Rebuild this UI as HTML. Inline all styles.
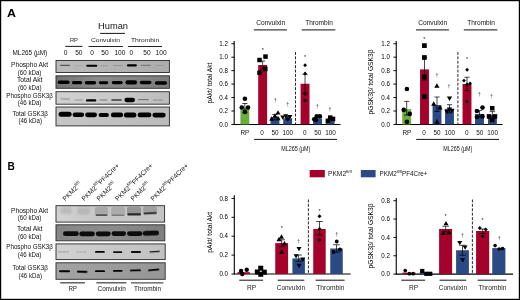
<!DOCTYPE html>
<html><head><meta charset="utf-8"><title>Figure</title>
<style>
html,body{margin:0;padding:0;background:#fff;}
body{width:520px;height:300px;overflow:hidden;}
svg{display:block;font-family:"Liberation Sans", sans-serif;}
</style></head><body>
<svg width="520" height="300" viewBox="0 0 520 300">
<defs>
<filter id="bl" x="-30%" y="-150%" width="160%" height="400%"><feGaussianBlur stdDeviation="0.55"/></filter>
<filter id="bl2" x="-30%" y="-50%" width="160%" height="200%"><feGaussianBlur stdDeviation="1.1"/></filter>
<filter id="bl3" x="-30%" y="-50%" width="160%" height="200%"><feGaussianBlur stdDeviation="0.7"/></filter>
<linearGradient id="gA1" x1="0" y1="0" x2="1" y2="0"><stop offset="0" stop-color="#bbbbbb"/><stop offset="0.5" stop-color="#b4b4b4"/><stop offset="1" stop-color="#acacac"/></linearGradient><linearGradient id="gA2" x1="0" y1="0" x2="1" y2="0"><stop offset="0" stop-color="#747474"/><stop offset="0.35" stop-color="#8a8a8a"/><stop offset="0.7" stop-color="#858585"/><stop offset="1" stop-color="#7c7c7c"/></linearGradient><linearGradient id="gA3" x1="0" y1="0" x2="1" y2="0"><stop offset="0" stop-color="#d0d0d0"/><stop offset="0.6" stop-color="#c8c8c8"/><stop offset="1" stop-color="#bcbcbc"/></linearGradient><linearGradient id="gA4" x1="0" y1="0" x2="1" y2="0"><stop offset="0" stop-color="#c6c6c6"/><stop offset="0.5" stop-color="#c0c0c0"/><stop offset="1" stop-color="#bababa"/></linearGradient><linearGradient id="gB1" x1="0" y1="0" x2="1" y2="0"><stop offset="0" stop-color="#d3d3d3"/><stop offset="0.4" stop-color="#c6c6c6"/><stop offset="1" stop-color="#c4c4c4"/></linearGradient><linearGradient id="gB2" x1="0" y1="0" x2="1" y2="0"><stop offset="0" stop-color="#868686"/><stop offset="0.5" stop-color="#8c8c8c"/><stop offset="1" stop-color="#7e7e7e"/></linearGradient><linearGradient id="gB3" x1="0" y1="0" x2="1" y2="0"><stop offset="0" stop-color="#d2d2d2"/><stop offset="0.5" stop-color="#c8c8c8"/><stop offset="1" stop-color="#c2c2c2"/></linearGradient><linearGradient id="gB4" x1="0" y1="0" x2="1" y2="0"><stop offset="0" stop-color="#a4a4a4"/><stop offset="0.5" stop-color="#9c9c9c"/><stop offset="1" stop-color="#969696"/></linearGradient>
</defs>
<rect x="0" y="0" width="520" height="300" fill="#fff"/>
<text x="6.9" y="16.9" font-size="11.7" textLength="9" lengthAdjust="spacingAndGlyphs" font-weight="bold" fill="#000">A</text>
<text x="7.6" y="170" font-size="11.4" textLength="7.3" lengthAdjust="spacingAndGlyphs" font-weight="bold" fill="#000">B</text>
<text x="98" y="28.5" font-size="9.7" textLength="30" lengthAdjust="spacingAndGlyphs" fill="#111">Human</text>
<line x1="100.2" y1="33.4" x2="124.9" y2="33.4" stroke="#111" stroke-width="1.0"/>
<text x="69.9" y="42.2" font-size="6.0" textLength="8" lengthAdjust="spacingAndGlyphs" fill="#222">RP</text>
<text x="91" y="42.2" font-size="6.0" textLength="29" lengthAdjust="spacingAndGlyphs" fill="#222">Convulxin</text>
<text x="131" y="42.2" font-size="6.0" textLength="28.2" lengthAdjust="spacingAndGlyphs" fill="#222">Thrombin</text>
<line x1="65.3" y1="46.4" x2="82.4" y2="46.4" stroke="#222" stroke-width="1.05"/>
<line x1="88.5" y1="46.4" x2="122.9" y2="46.4" stroke="#222" stroke-width="1.05"/>
<line x1="127.9" y1="46.4" x2="162" y2="46.4" stroke="#222" stroke-width="1.05"/>
<text x="12.5" y="55" font-size="6.5" textLength="34.7" lengthAdjust="spacingAndGlyphs" fill="#111">ML265 (µM)</text>
<text x="65.5" y="55.1" font-size="6.6" text-anchor="middle" fill="#111">0</text>
<text x="78.8" y="55.1" font-size="6.6" text-anchor="middle" fill="#111">50</text>
<text x="92.1" y="55.1" font-size="6.6" text-anchor="middle" fill="#111">0</text>
<text x="105" y="55.1" font-size="6.6" text-anchor="middle" fill="#111">50</text>
<text x="119.9" y="55.1" font-size="6.6" text-anchor="middle" fill="#111">100</text>
<text x="131.4" y="55.1" font-size="6.6" text-anchor="middle" fill="#111">0</text>
<text x="147" y="55.1" font-size="6.6" text-anchor="middle" fill="#111">50</text>
<text x="161.1" y="55.1" font-size="6.6" text-anchor="middle" fill="#111">100</text>
<text x="11.1" y="66.6" font-size="6.6" textLength="37" lengthAdjust="spacingAndGlyphs" fill="#111">Phospho Akt</text>
<text x="17.8" y="74.5" font-size="6.6" textLength="23.6" lengthAdjust="spacingAndGlyphs" fill="#111">(60 kDa)</text>
<text x="16.9" y="81.7" font-size="6.6" textLength="25.6" lengthAdjust="spacingAndGlyphs" fill="#111">Total Akt</text>
<text x="17.9" y="89.6" font-size="6.6" textLength="23.6" lengthAdjust="spacingAndGlyphs" fill="#111">(60 kDa)</text>
<text x="6.25" y="97.7" font-size="6.6" textLength="46.7" lengthAdjust="spacingAndGlyphs" fill="#111">Phospho GSK3β</text>
<text x="17.8" y="105.2" font-size="6.6" textLength="23.6" lengthAdjust="spacingAndGlyphs" fill="#111">(46 kDa)</text>
<text x="12.45" y="115.6" font-size="6.6" textLength="35.5" lengthAdjust="spacingAndGlyphs" fill="#111">Total GSK3β</text>
<text x="18.4" y="123.1" font-size="6.6" textLength="23.6" lengthAdjust="spacingAndGlyphs" fill="#111">(46 kDa)</text>
<clipPath id="ca1"><rect x="56.0" y="60.5" width="113.4" height="12.0"/></clipPath>
<g clip-path="url(#ca1)">
<rect x="56.0" y="60.5" width="113.4" height="12.0" fill="url(#gA1)"/>
<rect x="60" y="64.75" width="10" height="1.3" rx="0.65" fill="#333" opacity="0.75" filter="url(#bl)" transform="rotate(1 65.0 65.4)"/>
<rect x="74.5" y="65.3" width="8.5" height="1.0" rx="0.5" fill="#555" opacity="0.15" filter="url(#bl)"/>
<rect x="86.2" y="64.75" width="11.1" height="2.1" rx="1.05" fill="#000" opacity="1" filter="url(#bl)"/>
<rect x="100" y="65.2" width="8" height="1.0" rx="0.5" fill="#555" opacity="0.3" filter="url(#bl)"/>
<rect x="113" y="65.0" width="9.5" height="1.0" rx="0.5" fill="#555" opacity="0.3" filter="url(#bl)"/>
<rect x="126.9" y="64.25" width="10.0" height="2.3" rx="1.15" fill="#000" opacity="1" filter="url(#bl)"/>
<rect x="140.6" y="64.85" width="10.0" height="1.1" rx="0.55" fill="#444" opacity="0.5" filter="url(#bl)"/>
<rect x="155" y="65.0" width="10" height="1.0" rx="0.5" fill="#555" opacity="0.2" filter="url(#bl)"/>
</g>
<rect x="56.0" y="60.5" width="113.4" height="12.0" fill="none" stroke="#262626" stroke-width="0.9"/>
<clipPath id="ca2"><rect x="56.0" y="75.8" width="113.4" height="12.5"/></clipPath>
<g clip-path="url(#ca2)">
<rect x="56.0" y="75.8" width="113.4" height="12.5" fill="url(#gA2)"/>
<rect x="57.7" y="80.5" width="11.9" height="3.6" rx="1.8" fill="#050505" opacity="1" filter="url(#bl)"/>
<rect x="72" y="81.1" width="10.2" height="3.2" rx="1.6" fill="#050505" opacity="1" filter="url(#bl)"/>
<rect x="84.8" y="80.95" width="11.4" height="3.5" rx="1.75" fill="#050505" opacity="1" filter="url(#bl)"/>
<rect x="98.8" y="81.35" width="9.4" height="2.9" rx="1.45" fill="#050505" opacity="1" filter="url(#bl)"/>
<rect x="111.8" y="81.0" width="10.9" height="3.2" rx="1.6" fill="#050505" opacity="1" filter="url(#bl)"/>
<rect x="125.4" y="80.3" width="11.7" height="4.2" rx="2.1" fill="#000" opacity="1" filter="url(#bl)"/>
<rect x="139.8" y="80.75" width="11.6" height="3.5" rx="1.75" fill="#050505" opacity="1" filter="url(#bl)"/>
<rect x="154.8" y="81.35" width="12.3" height="3.5" rx="1.75" fill="#050505" opacity="1" filter="url(#bl)"/>
</g>
<rect x="56.0" y="75.8" width="113.4" height="12.5" fill="none" stroke="#262626" stroke-width="0.9"/>
<clipPath id="ca3"><rect x="56.0" y="91.7" width="113.4" height="12.5"/></clipPath>
<g clip-path="url(#ca3)">
<rect x="56.0" y="91.7" width="113.4" height="12.5" fill="url(#gA3)"/>
<rect x="60.6" y="98.6" width="9.4" height="1.0" rx="0.5" fill="#555" opacity="0.55" filter="url(#bl)" transform="rotate(4 65.3 99.1)"/>
<rect x="74.4" y="99.4" width="8.6" height="1.0" rx="0.5" fill="#555" opacity="0.45" filter="url(#bl)"/>
<rect x="86" y="99.2" width="10.3" height="2.4" rx="1.2" fill="#000" opacity="1" filter="url(#bl)"/>
<rect x="99.4" y="99.45" width="8.1" height="1.1" rx="0.55" fill="#444" opacity="0.6" filter="url(#bl)"/>
<rect x="111.2" y="99.2" width="10.7" height="1.6" rx="0.8" fill="#222" opacity="0.85" filter="url(#bl)"/>
<rect x="124.4" y="97.85" width="10.6" height="4.3" rx="2.15" fill="#000" opacity="1" filter="url(#bl)"/>
<rect x="138" y="99.1" width="10.8" height="1.2" rx="0.6" fill="#444" opacity="0.6" filter="url(#bl)"/>
<rect x="152.5" y="99.6" width="10.5" height="1.0" rx="0.5" fill="#555" opacity="0.45" filter="url(#bl)"/>
</g>
<rect x="56.0" y="91.7" width="113.4" height="12.5" fill="none" stroke="#262626" stroke-width="0.9"/>
<clipPath id="ca4"><rect x="56.0" y="107.0" width="113.4" height="18.9"/></clipPath>
<g clip-path="url(#ca4)">
<rect x="56.0" y="107.0" width="113.4" height="18.9" fill="url(#gA4)"/>
<rect x="58.6" y="111.8" width="13.0" height="5.0" rx="2.5" fill="#000" opacity="1" filter="url(#bl)"/>
<rect x="72.6" y="112.5" width="11.5" height="4.6" rx="2.3" fill="#000" opacity="1" filter="url(#bl)"/>
<rect x="85.1" y="112.45" width="11.9" height="4.7" rx="2.35" fill="#000" opacity="1" filter="url(#bl)"/>
<rect x="98.6" y="112.9" width="10.3" height="4.0" rx="2.0" fill="#000" opacity="1" filter="url(#bl)"/>
<rect x="110.9" y="112.6" width="12.2" height="4.6" rx="2.3" fill="#000" opacity="1" filter="url(#bl)"/>
<rect x="123.9" y="112.4" width="12.5" height="5.0" rx="2.5" fill="#000" opacity="1" filter="url(#bl)"/>
<rect x="137.6" y="112.55" width="13.8" height="4.7" rx="2.35" fill="#000" opacity="1" filter="url(#bl)"/>
<rect x="152.4" y="112.8" width="13.3" height="4.6" rx="2.3" fill="#000" opacity="1" filter="url(#bl)"/>
</g>
<rect x="56.0" y="107.0" width="113.4" height="18.9" fill="none" stroke="#262626" stroke-width="0.9"/>
<text transform="translate(65.3,201.3) rotate(-45)" font-size="6.6" fill="#111">PKM2<tspan font-size="4.3" dy="-2.9">fl/fl</tspan></text>
<text transform="translate(84.3,201.3) rotate(-45)" font-size="6.6" fill="#111">PKM2<tspan font-size="4.3" dy="-2.9">fl/fl</tspan><tspan dy="2.9">PF4Cre+</tspan></text>
<text transform="translate(99.3,201.3) rotate(-45)" font-size="6.6" fill="#111">PKM2<tspan font-size="4.3" dy="-2.9">fl/fl</tspan></text>
<text transform="translate(117.8,201.3) rotate(-45)" font-size="6.6" fill="#111">PKM2<tspan font-size="4.3" dy="-2.9">fl/fl</tspan><tspan dy="2.9">PF4Cre+</tspan></text>
<text transform="translate(133.3,201.3) rotate(-45)" font-size="6.6" fill="#111">PKM2<tspan font-size="4.3" dy="-2.9">fl/fl</tspan></text>
<text transform="translate(153.3,201.3) rotate(-45)" font-size="6.6" fill="#111">PKM2<tspan font-size="4.3" dy="-2.9">fl/fl</tspan><tspan dy="2.9">PF4Cre+</tspan></text>
<text x="11.1" y="212.5" font-size="6.6" textLength="37" lengthAdjust="spacingAndGlyphs" fill="#111">Phospho Akt</text>
<text x="17.8" y="220.4" font-size="6.6" textLength="23.6" lengthAdjust="spacingAndGlyphs" fill="#111">(60 kDa)</text>
<text x="16.9" y="230.6" font-size="6.6" textLength="25.6" lengthAdjust="spacingAndGlyphs" fill="#111">Total Akt</text>
<text x="17.9" y="238.5" font-size="6.6" textLength="23.6" lengthAdjust="spacingAndGlyphs" fill="#111">(60 kDa)</text>
<text x="6.25" y="249.4" font-size="6.6" textLength="46.7" lengthAdjust="spacingAndGlyphs" fill="#111">Phospho GSK3β</text>
<text x="17.8" y="256.9" font-size="6.6" textLength="23.6" lengthAdjust="spacingAndGlyphs" fill="#111">(46 kDa)</text>
<text x="12.45" y="269.7" font-size="6.6" textLength="35.5" lengthAdjust="spacingAndGlyphs" fill="#111">Total GSK3β</text>
<text x="18.4" y="277.5" font-size="6.6" textLength="23.6" lengthAdjust="spacingAndGlyphs" fill="#111">(46 kDa)</text>
<clipPath id="cb1"><rect x="56.0" y="205.7" width="108.6" height="16.4"/></clipPath>
<g clip-path="url(#cb1)">
<rect x="56.0" y="205.7" width="108.6" height="16.4" fill="url(#gB1)"/>
<rect x="60" y="207.0" width="12" height="7" rx="3.5" fill="#a0a0a0" opacity="0.45" filter="url(#bl2)"/>
<rect x="77" y="207.25" width="13" height="7.5" rx="3.75" fill="#a0a0a0" opacity="0.45" filter="url(#bl2)"/>
<rect x="94.8" y="207.0" width="13.2" height="8.6" rx="2.2" fill="#a6a6a6" opacity="0.9" filter="url(#bl3)"/>
<rect x="111" y="207.0" width="14" height="8.8" rx="2.2" fill="#a8a8a8" opacity="0.9" filter="url(#bl3)"/>
<rect x="127" y="206.7" width="14.2" height="8.2" rx="2.2" fill="#929292" opacity="0.95" filter="url(#bl3)"/>
<rect x="143.2" y="206.5" width="13.8" height="7.4" rx="2.2" fill="#9c9c9c" opacity="0.9" filter="url(#bl3)"/>
<rect x="95.6" y="214.25" width="11.9" height="1.7" rx="0.85" fill="#4a4a4a" opacity="0.9" filter="url(#bl3)"/>
<rect x="111.5" y="214.55" width="13.0" height="1.5" rx="0.75" fill="#666" opacity="0.7" filter="url(#bl3)"/>
<rect x="127.3" y="213.25" width="13.7" height="2.3" rx="1.15" fill="#2a2a2a" opacity="1" filter="url(#bl3)"/>
<rect x="143.5" y="212.25" width="13.3" height="1.9" rx="0.95" fill="#333" opacity="1" filter="url(#bl3)" transform="rotate(-3 150.15 213.2)"/>
</g>
<rect x="56.0" y="205.7" width="108.6" height="16.4" fill="none" stroke="#262626" stroke-width="0.9"/>
<clipPath id="cb2"><rect x="56.0" y="224.8" width="108.8" height="16.0"/></clipPath>
<g clip-path="url(#cb2)">
<rect x="56.0" y="224.8" width="108.8" height="16.0" fill="url(#gB2)"/>
<rect x="63" y="231.3" width="15.7" height="4.8" rx="2.4" fill="#0a0a0a" opacity="1" filter="url(#bl3)"/>
<rect x="79.3" y="231.45" width="15.5" height="4.9" rx="2.45" fill="#0a0a0a" opacity="1" filter="url(#bl3)"/>
<rect x="95.8" y="231.4" width="14.9" height="4.8" rx="2.4" fill="#0a0a0a" opacity="1" filter="url(#bl3)"/>
<rect x="111.6" y="231.3" width="14.4" height="4.6" rx="2.3" fill="#0a0a0a" opacity="1" filter="url(#bl3)"/>
<rect x="127.1" y="231.2" width="15.3" height="4.8" rx="2.4" fill="#0a0a0a" opacity="1" filter="url(#bl3)"/>
<rect x="142.8" y="230.8" width="16.2" height="4.8" rx="2.4" fill="#0a0a0a" opacity="1" filter="url(#bl3)" transform="rotate(-2 150.9 233.2)"/>
</g>
<rect x="56.0" y="224.8" width="108.8" height="16.0" fill="none" stroke="#262626" stroke-width="0.9"/>
<clipPath id="cb3"><rect x="56.0" y="243.9" width="109.2" height="15.7"/></clipPath>
<g clip-path="url(#cb3)">
<rect x="56.0" y="243.9" width="109.2" height="15.7" fill="url(#gB3)"/>
<rect x="58" y="251.3" width="11" height="1.2" rx="0.6" fill="#888" opacity="0.55" filter="url(#bl)"/>
<rect x="76" y="251.6" width="11" height="1.0" rx="0.5" fill="#888" opacity="0.5" filter="url(#bl)"/>
<rect x="95" y="250.95" width="9.8" height="1.9" rx="0.95" fill="#050505" opacity="1" filter="url(#bl)"/>
<rect x="113" y="251.25" width="9.3" height="1.7" rx="0.85" fill="#101010" opacity="1" filter="url(#bl)"/>
<rect x="130.9" y="251.1" width="10.1" height="1.8" rx="0.9" fill="#0a0a0a" opacity="1" filter="url(#bl)"/>
<rect x="149.4" y="250.95" width="10.6" height="1.3" rx="0.65" fill="#151515" opacity="1" filter="url(#bl)" transform="rotate(-4 154.7 251.6)"/>
</g>
<rect x="56.0" y="243.9" width="109.2" height="15.7" fill="none" stroke="#262626" stroke-width="0.9"/>
<clipPath id="cb4"><rect x="56.0" y="262.8" width="109.2" height="16.5"/></clipPath>
<g clip-path="url(#cb4)">
<rect x="56.0" y="262.8" width="109.2" height="16.5" fill="url(#gB4)"/>
<rect x="59" y="270.25" width="11" height="1.9" rx="0.95" fill="#000" opacity="1" filter="url(#bl)"/>
<rect x="76.9" y="270.75" width="10.6" height="1.9" rx="0.95" fill="#000" opacity="1" filter="url(#bl)" transform="rotate(2 82.2 271.7)"/>
<rect x="95" y="270.3" width="10" height="1.8" rx="0.9" fill="#000" opacity="1" filter="url(#bl)"/>
<rect x="113" y="270.0" width="9.5" height="1.8" rx="0.9" fill="#000" opacity="1" filter="url(#bl)"/>
<rect x="130" y="269.45" width="11" height="1.9" rx="0.95" fill="#000" opacity="1" filter="url(#bl)" transform="rotate(-2 135.5 270.4)"/>
<rect x="148" y="268.9" width="11.4" height="1.8" rx="0.9" fill="#000" opacity="1" filter="url(#bl)" transform="rotate(-5 153.7 269.8)"/>
</g>
<rect x="56.0" y="262.8" width="109.2" height="16.5" fill="none" stroke="#262626" stroke-width="0.9"/>
<line x1="60.2" y1="282.8" x2="84.9" y2="282.8" stroke="#505050" stroke-width="1.35"/>
<line x1="96.4" y1="282.8" x2="126.4" y2="282.8" stroke="#505050" stroke-width="1.35"/>
<line x1="131" y1="282.8" x2="163.4" y2="282.8" stroke="#505050" stroke-width="1.35"/>
<text x="68.7" y="290.8" font-size="6.3" textLength="8.1" lengthAdjust="spacingAndGlyphs" fill="#111">RP</text>
<text x="97.6" y="290.8" font-size="6.3" textLength="28.1" lengthAdjust="spacingAndGlyphs" fill="#111">Convulxin</text>
<text x="134" y="290.8" font-size="6.3" textLength="27" lengthAdjust="spacingAndGlyphs" fill="#111">Thrombin</text>
<line x1="234.2" y1="41" x2="234.2" y2="124.95" stroke="#000" stroke-width="1.1"/>
<line x1="233.7" y1="124.45" x2="340.5" y2="124.45" stroke="#000" stroke-width="1.1"/>
<line x1="231.39999999999998" y1="124.45" x2="234.2" y2="124.45" stroke="#000" stroke-width="0.95"/>
<text x="219.3" y="126.6" font-size="6.4" textLength="8.6" lengthAdjust="spacingAndGlyphs" fill="#000">0.0</text>
<line x1="231.39999999999998" y1="111.0" x2="234.2" y2="111.0" stroke="#000" stroke-width="0.95"/>
<text x="219.3" y="113.15" font-size="6.4" textLength="8.6" lengthAdjust="spacingAndGlyphs" fill="#000">0.2</text>
<line x1="231.39999999999998" y1="97.55" x2="234.2" y2="97.55" stroke="#000" stroke-width="0.95"/>
<text x="219.3" y="99.7" font-size="6.4" textLength="8.6" lengthAdjust="spacingAndGlyphs" fill="#000">0.4</text>
<line x1="231.39999999999998" y1="84.1" x2="234.2" y2="84.1" stroke="#000" stroke-width="0.95"/>
<text x="219.3" y="86.25" font-size="6.4" textLength="8.6" lengthAdjust="spacingAndGlyphs" fill="#000">0.6</text>
<line x1="231.39999999999998" y1="70.65" x2="234.2" y2="70.65" stroke="#000" stroke-width="0.95"/>
<text x="219.3" y="72.8" font-size="6.4" textLength="8.6" lengthAdjust="spacingAndGlyphs" fill="#000">0.8</text>
<line x1="231.39999999999998" y1="57.2" x2="234.2" y2="57.2" stroke="#000" stroke-width="0.95"/>
<text x="219.3" y="59.35" font-size="6.4" textLength="8.6" lengthAdjust="spacingAndGlyphs" fill="#000">1.0</text>
<line x1="231.39999999999998" y1="43.75" x2="234.2" y2="43.75" stroke="#000" stroke-width="0.95"/>
<text x="219.3" y="45.9" font-size="6.4" textLength="8.6" lengthAdjust="spacingAndGlyphs" fill="#000">1.2</text>
<text transform="translate(212.0,83) rotate(-90)" font-size="7.8" text-anchor="middle" textLength="41" lengthAdjust="spacingAndGlyphs" fill="#000">pAkt/ total Akt</text>
<rect x="240.4" y="108.1" width="8.9" height="16.35" fill="#69ad3d"/>
<rect x="258.2" y="65.0" width="8.9" height="59.45" fill="#a5022b"/>
<rect x="270.5" y="117.2" width="8.9" height="7.25" fill="#2b4984"/>
<rect x="283.2" y="118.2" width="8.9" height="6.25" fill="#2b4984"/>
<rect x="300.6" y="83.75" width="8.9" height="40.7" fill="#a5022b"/>
<rect x="313.1" y="118.6" width="8.9" height="5.85" fill="#2b4984"/>
<rect x="325.7" y="119.4" width="8.9" height="5.05" fill="#2b4984"/>
<line x1="244.85" y1="103.5" x2="244.85" y2="112.6" stroke="#000" stroke-width="0.72"/>
<line x1="242.25" y1="103.5" x2="247.45" y2="103.5" stroke="#000" stroke-width="0.72"/>
<line x1="242.25" y1="112.6" x2="247.45" y2="112.6" stroke="#000" stroke-width="0.72"/>
<circle cx="244.9" cy="98.75" r="2.3" fill="#000"/>
<circle cx="241.75" cy="107.5" r="2.3" fill="#000"/>
<circle cx="248" cy="107.5" r="2.3" fill="#000"/>
<circle cx="244.9" cy="111.9" r="2.3" fill="#000"/>
<line x1="262.65" y1="61" x2="262.65" y2="69" stroke="#000" stroke-width="0.72"/>
<line x1="260.05" y1="61" x2="265.25" y2="61" stroke="#000" stroke-width="0.72"/>
<line x1="260.05" y1="69" x2="265.25" y2="69" stroke="#000" stroke-width="0.72"/>
<rect x="263.25" y="54.35" width="4.5" height="4.5" fill="#000"/>
<rect x="257.25" y="57.75" width="4.5" height="4.5" fill="#000"/>
<rect x="263.0" y="66.75" width="4.5" height="4.5" fill="#000"/>
<rect x="257.25" y="70.5" width="4.5" height="4.5" fill="#000"/>
<line x1="274.95" y1="114.6" x2="274.95" y2="119.8" stroke="#000" stroke-width="0.72"/>
<line x1="272.35" y1="114.6" x2="277.55" y2="114.6" stroke="#000" stroke-width="0.72"/>
<line x1="272.35" y1="119.8" x2="277.55" y2="119.8" stroke="#000" stroke-width="0.72"/>
<polygon points="278,110.17 280.53,114.57 275.47,114.57" fill="#000"/>
<polygon points="274.9,113.27 277.43,117.67 272.37,117.67" fill="#000"/>
<polygon points="271.75,116.37 274.28,120.77 269.22,120.77" fill="#000"/>
<polygon points="278,115.77 280.53,120.17 275.47,120.17" fill="#000"/>
<line x1="287.65" y1="116.5" x2="287.65" y2="119.9" stroke="#000" stroke-width="0.72"/>
<line x1="285.05" y1="116.5" x2="290.25" y2="116.5" stroke="#000" stroke-width="0.72"/>
<line x1="285.05" y1="119.9" x2="290.25" y2="119.9" stroke="#000" stroke-width="0.72"/>
<polygon points="285.75,118.73 288.28,114.33 283.22,114.33" fill="#000"/>
<polygon points="289.9,119.33 292.43,114.93 287.37,114.93" fill="#000"/>
<polygon points="287.75,121.73 290.28,117.33 285.22,117.33" fill="#000"/>
<polygon points="282.8,119.83 285.33,115.43 280.27,115.43" fill="#000"/>
<line x1="305.05" y1="74.4" x2="305.05" y2="93.1" stroke="#000" stroke-width="0.72"/>
<line x1="302.45" y1="74.4" x2="307.65" y2="74.4" stroke="#000" stroke-width="0.72"/>
<line x1="302.45" y1="93.1" x2="307.65" y2="93.1" stroke="#000" stroke-width="0.72"/>
<polygon points="305.1,63.35 307.0,65.25 305.1,67.15 303.2,65.25" fill="#000"/>
<polygon points="305.1,71.6 307.0,73.5 305.1,75.4 303.2,73.5" fill="#000"/>
<polygon points="305.1,92.0 307.0,93.9 305.1,95.8 303.2,93.9" fill="#000"/>
<polygon points="305.1,98.6 307.0,100.5 305.1,102.4 303.2,100.5" fill="#000"/>
<circle cx="314.25" cy="119.25" r="2.3" fill="#000"/>
<circle cx="316.75" cy="116.4" r="2.3" fill="#000"/>
<circle cx="319.9" cy="116.4" r="2.3" fill="#000"/>
<circle cx="316" cy="120" r="2.3" fill="#000"/>
<rect x="325.75" y="118.5" width="4.5" height="4.5" fill="#000"/>
<rect x="328.0" y="115.35" width="4.5" height="4.5" fill="#000"/>
<rect x="330.75" y="116.65" width="4.5" height="4.5" fill="#000"/>
<text x="262.75" y="52.0" font-size="5.5" text-anchor="middle" fill="#222">*</text>
<text x="275.25" y="102.3" font-size="5.2" text-anchor="middle" fill="#333">†</text>
<text x="287.7" y="106.1" font-size="5.2" text-anchor="middle" fill="#333">†</text>
<text x="305.1" y="59.1" font-size="5.5" text-anchor="middle" fill="#222">*</text>
<text x="317.1" y="108.1" font-size="5.2" text-anchor="middle" fill="#333">†</text>
<text x="330" y="111.4" font-size="5.2" text-anchor="middle" fill="#333">†</text>
<line x1="295.5" y1="52" x2="295.5" y2="124.45" stroke="#111" stroke-width="0.9" stroke-dasharray="2.9 1.5"/>
<text x="256.2" y="25.2" font-size="6.6" textLength="29" lengthAdjust="spacingAndGlyphs" fill="#111">Convulxin</text>
<line x1="253.9" y1="29.9" x2="286.9" y2="29.9" stroke="#111" stroke-width="1.0"/>
<text x="305.2" y="25.2" font-size="6.6" textLength="27.6" lengthAdjust="spacingAndGlyphs" fill="#111">Thrombin</text>
<line x1="301.8" y1="29.9" x2="335.3" y2="29.9" stroke="#111" stroke-width="1.0"/>
<text x="244.9" y="134.7" font-size="6.4" text-anchor="middle" fill="#111">RP</text>
<text x="262.1" y="134.7" font-size="6.4" text-anchor="middle" fill="#111">0</text>
<text x="275.0" y="134.7" font-size="6.4" text-anchor="middle" fill="#111">50</text>
<text x="287.8" y="134.7" font-size="6.4" text-anchor="middle" fill="#111">100</text>
<text x="304.7" y="134.7" font-size="6.4" text-anchor="middle" fill="#111">0</text>
<text x="317.8" y="134.7" font-size="6.4" text-anchor="middle" fill="#111">50</text>
<text x="330.6" y="134.7" font-size="6.4" text-anchor="middle" fill="#111">100</text>
<line x1="254.2" y1="139.4" x2="337.0" y2="139.4" stroke="#111" stroke-width="1.0"/>
<text x="281.3" y="150.6" font-size="7.1" textLength="29" lengthAdjust="spacingAndGlyphs" fill="#111">ML265 (µM)</text>
<line x1="396.25" y1="41" x2="396.25" y2="124.95" stroke="#000" stroke-width="1.1"/>
<line x1="395.75" y1="124.45" x2="502.55" y2="124.45" stroke="#000" stroke-width="1.1"/>
<line x1="393.45" y1="124.45" x2="396.25" y2="124.45" stroke="#000" stroke-width="0.95"/>
<text x="381.35" y="126.6" font-size="6.4" textLength="8.6" lengthAdjust="spacingAndGlyphs" fill="#000">0.0</text>
<line x1="393.45" y1="111.0" x2="396.25" y2="111.0" stroke="#000" stroke-width="0.95"/>
<text x="381.35" y="113.15" font-size="6.4" textLength="8.6" lengthAdjust="spacingAndGlyphs" fill="#000">0.2</text>
<line x1="393.45" y1="97.55" x2="396.25" y2="97.55" stroke="#000" stroke-width="0.95"/>
<text x="381.35" y="99.7" font-size="6.4" textLength="8.6" lengthAdjust="spacingAndGlyphs" fill="#000">0.4</text>
<line x1="393.45" y1="84.1" x2="396.25" y2="84.1" stroke="#000" stroke-width="0.95"/>
<text x="381.35" y="86.25" font-size="6.4" textLength="8.6" lengthAdjust="spacingAndGlyphs" fill="#000">0.6</text>
<line x1="393.45" y1="70.65" x2="396.25" y2="70.65" stroke="#000" stroke-width="0.95"/>
<text x="381.35" y="72.8" font-size="6.4" textLength="8.6" lengthAdjust="spacingAndGlyphs" fill="#000">0.8</text>
<line x1="393.45" y1="57.2" x2="396.25" y2="57.2" stroke="#000" stroke-width="0.95"/>
<text x="381.35" y="59.35" font-size="6.4" textLength="8.6" lengthAdjust="spacingAndGlyphs" fill="#000">1.0</text>
<line x1="393.45" y1="43.75" x2="396.25" y2="43.75" stroke="#000" stroke-width="0.95"/>
<text x="381.35" y="45.9" font-size="6.4" textLength="8.6" lengthAdjust="spacingAndGlyphs" fill="#000">1.2</text>
<text transform="translate(372.5,82) rotate(-90)" font-size="7.8" text-anchor="middle" textLength="65" lengthAdjust="spacingAndGlyphs" fill="#000">pGSK3β/ total GSK3β</text>
<rect x="402.25" y="109.25" width="8.9" height="15.2" fill="#69ad3d"/>
<rect x="420.05" y="69.4" width="8.9" height="55.05" fill="#a5022b"/>
<rect x="432.55" y="105.1" width="8.9" height="19.35" fill="#2b4984"/>
<rect x="445.05" y="108.9" width="8.9" height="15.55" fill="#2b4984"/>
<rect x="462.55" y="84.0" width="8.9" height="40.45" fill="#a5022b"/>
<rect x="475.05" y="113.9" width="8.9" height="10.55" fill="#2b4984"/>
<rect x="487.95" y="115.1" width="8.9" height="9.35" fill="#2b4984"/>
<line x1="406.7" y1="101.4" x2="406.7" y2="115.1" stroke="#000" stroke-width="0.72"/>
<line x1="404.1" y1="101.4" x2="409.3" y2="101.4" stroke="#000" stroke-width="0.72"/>
<line x1="404.1" y1="115.1" x2="409.3" y2="115.1" stroke="#000" stroke-width="0.72"/>
<circle cx="406.9" cy="89" r="2.3" fill="#000"/>
<circle cx="403.75" cy="109.9" r="2.3" fill="#000"/>
<circle cx="409.75" cy="113.9" r="2.3" fill="#000"/>
<circle cx="406.9" cy="121.75" r="2.3" fill="#000"/>
<line x1="424.5" y1="57.5" x2="424.5" y2="80" stroke="#000" stroke-width="0.72"/>
<line x1="421.9" y1="57.5" x2="427.1" y2="57.5" stroke="#000" stroke-width="0.72"/>
<line x1="421.9" y1="80" x2="427.1" y2="80" stroke="#000" stroke-width="0.72"/>
<rect x="422.05" y="43.25" width="4.7" height="4.7" fill="#000"/>
<rect x="422.05" y="55.15" width="4.7" height="4.7" fill="#000"/>
<rect x="422.05" y="74.55" width="4.7" height="4.7" fill="#000"/>
<rect x="422.05" y="94.25" width="4.7" height="4.7" fill="#000"/>
<line x1="437.0" y1="97" x2="437.0" y2="111.4" stroke="#000" stroke-width="0.72"/>
<line x1="434.4" y1="97" x2="439.6" y2="97" stroke="#000" stroke-width="0.72"/>
<line x1="434.4" y1="111.4" x2="439.6" y2="111.4" stroke="#000" stroke-width="0.72"/>
<polygon points="436.9,83.26 439.54,87.86 434.25,87.86" fill="#000"/>
<polygon points="433.75,101.26 436.39,105.86 431.11,105.86" fill="#000"/>
<polygon points="440,104.95 442.64,109.55 437.36,109.55" fill="#000"/>
<polygon points="436.9,119.11 439.54,123.7 434.25,123.7" fill="#000"/>
<line x1="449.5" y1="104.7" x2="449.5" y2="112.9" stroke="#000" stroke-width="0.72"/>
<line x1="446.9" y1="104.7" x2="452.1" y2="104.7" stroke="#000" stroke-width="0.72"/>
<line x1="446.9" y1="112.9" x2="452.1" y2="112.9" stroke="#000" stroke-width="0.72"/>
<polygon points="449.5,101.05 452.14,96.45 446.86,96.45" fill="#000"/>
<polygon points="446.9,114.24 449.54,109.64 444.25,109.64" fill="#000"/>
<polygon points="451.9,113.24 454.54,108.64 449.25,108.64" fill="#000"/>
<polygon points="449.4,112.14 452.04,107.55 446.75,107.55" fill="#000"/>
<line x1="467.0" y1="77.25" x2="467.0" y2="90.6" stroke="#000" stroke-width="0.72"/>
<line x1="464.4" y1="77.25" x2="469.6" y2="77.25" stroke="#000" stroke-width="0.72"/>
<line x1="464.4" y1="90.6" x2="469.6" y2="90.6" stroke="#000" stroke-width="0.72"/>
<polygon points="467.1,67.85 469.0,69.75 467.1,71.65 465.2,69.75" fill="#000"/>
<polygon points="464,78.7 465.9,80.6 464,82.5 462.1,80.6" fill="#000"/>
<polygon points="470,81.6 471.9,83.5 470,85.4 468.1,83.5" fill="#000"/>
<polygon points="466.9,99.5 468.8,101.4 466.9,103.3 465.0,101.4" fill="#000"/>
<polygon points="467,82.6 468.9,84.5 467,86.4 465.1,84.5" fill="#000"/>
<line x1="479.5" y1="110.6" x2="479.5" y2="117.2" stroke="#000" stroke-width="0.72"/>
<line x1="476.9" y1="110.6" x2="482.1" y2="110.6" stroke="#000" stroke-width="0.72"/>
<line x1="476.9" y1="117.2" x2="482.1" y2="117.2" stroke="#000" stroke-width="0.72"/>
<circle cx="482.5" cy="107.6" r="2.3" fill="#000"/>
<circle cx="476.9" cy="111" r="2.3" fill="#000"/>
<circle cx="476.9" cy="117" r="2.3" fill="#000"/>
<circle cx="482.5" cy="116.4" r="2.3" fill="#000"/>
<line x1="492.4" y1="111.6" x2="492.4" y2="118.6" stroke="#000" stroke-width="0.72"/>
<line x1="489.8" y1="111.6" x2="495.0" y2="111.6" stroke="#000" stroke-width="0.72"/>
<line x1="489.8" y1="118.6" x2="495.0" y2="118.6" stroke="#000" stroke-width="0.72"/>
<rect x="490.0" y="106.0" width="4.5" height="4.5" fill="#000"/>
<rect x="486.75" y="114.15" width="4.5" height="4.5" fill="#000"/>
<rect x="492.75" y="114.15" width="4.5" height="4.5" fill="#000"/>
<rect x="490.0" y="117.75" width="4.5" height="4.5" fill="#000"/>
<text x="424.4" y="40.7" font-size="5.5" text-anchor="middle" fill="#222">*</text>
<text x="436.9" y="76.9" font-size="5.2" text-anchor="middle" fill="#333">†</text>
<text x="449" y="87.9" font-size="5.2" text-anchor="middle" fill="#333">†</text>
<text x="467.1" y="61.0" font-size="5.5" text-anchor="middle" fill="#222">*</text>
<text x="479.4" y="95.6" font-size="5.2" text-anchor="middle" fill="#333">†</text>
<text x="491.5" y="98.1" font-size="5.2" text-anchor="middle" fill="#333">†</text>
<line x1="457.9" y1="52" x2="457.9" y2="124.45" stroke="#111" stroke-width="0.9" stroke-dasharray="2.9 1.5"/>
<text x="418.25" y="25.2" font-size="6.6" textLength="29" lengthAdjust="spacingAndGlyphs" fill="#111">Convulxin</text>
<line x1="415.95" y1="29.9" x2="448.95" y2="29.9" stroke="#111" stroke-width="1.0"/>
<text x="467.25" y="25.2" font-size="6.6" textLength="27.6" lengthAdjust="spacingAndGlyphs" fill="#111">Thrombin</text>
<line x1="463.85" y1="29.9" x2="497.35" y2="29.9" stroke="#111" stroke-width="1.0"/>
<text x="406.95" y="134.7" font-size="6.4" text-anchor="middle" fill="#111">RP</text>
<text x="424.15" y="134.7" font-size="6.4" text-anchor="middle" fill="#111">0</text>
<text x="437.05" y="134.7" font-size="6.4" text-anchor="middle" fill="#111">50</text>
<text x="449.85" y="134.7" font-size="6.4" text-anchor="middle" fill="#111">100</text>
<text x="466.75" y="134.7" font-size="6.4" text-anchor="middle" fill="#111">0</text>
<text x="479.85" y="134.7" font-size="6.4" text-anchor="middle" fill="#111">50</text>
<text x="492.65" y="134.7" font-size="6.4" text-anchor="middle" fill="#111">100</text>
<line x1="416.25" y1="139.4" x2="499.05" y2="139.4" stroke="#111" stroke-width="1.0"/>
<text x="443.35" y="150.6" font-size="7.1" textLength="29" lengthAdjust="spacingAndGlyphs" fill="#111">ML265 (µM)</text>
<rect x="309.7" y="170" width="15.1" height="7.3" fill="#a5022b"/>
<text x="328" y="176.1" font-size="6.8" textLength="23.6" lengthAdjust="spacingAndGlyphs" fill="#111">PKM2<tspan font-size="4.4" dy="-2.9">fl/fl</tspan></text>
<rect x="360.8" y="170" width="14.8" height="7.3" fill="#2b4984"/>
<text x="379.5" y="176.1" font-size="6.8" textLength="48" lengthAdjust="spacingAndGlyphs" fill="#111">PKM2<tspan font-size="4.4" dy="-2.9">fl/fl</tspan><tspan dy="2.9">PF4Cre+</tspan></text>
<line x1="234.3" y1="195.3" x2="234.3" y2="274.5" stroke="#000" stroke-width="1.1"/>
<line x1="233.8" y1="274" x2="350.6" y2="274" stroke="#000" stroke-width="1.1"/>
<line x1="231.5" y1="274.0" x2="234.3" y2="274.0" stroke="#000" stroke-width="0.95"/>
<text x="219.4" y="276.15" font-size="6.4" textLength="8.6" lengthAdjust="spacingAndGlyphs" fill="#000">0.0</text>
<line x1="231.5" y1="255.1" x2="234.3" y2="255.1" stroke="#000" stroke-width="0.95"/>
<text x="219.4" y="257.25" font-size="6.4" textLength="8.6" lengthAdjust="spacingAndGlyphs" fill="#000">0.2</text>
<line x1="231.5" y1="236.2" x2="234.3" y2="236.2" stroke="#000" stroke-width="0.95"/>
<text x="219.4" y="238.35" font-size="6.4" textLength="8.6" lengthAdjust="spacingAndGlyphs" fill="#000">0.4</text>
<line x1="231.5" y1="217.3" x2="234.3" y2="217.3" stroke="#000" stroke-width="0.95"/>
<text x="219.4" y="219.45" font-size="6.4" textLength="8.6" lengthAdjust="spacingAndGlyphs" fill="#000">0.6</text>
<line x1="231.5" y1="198.4" x2="234.3" y2="198.4" stroke="#000" stroke-width="0.95"/>
<text x="219.4" y="200.55" font-size="6.4" textLength="8.6" lengthAdjust="spacingAndGlyphs" fill="#000">0.8</text>
<text transform="translate(212.0,232.3) rotate(-90)" font-size="7.8" text-anchor="middle" textLength="41" lengthAdjust="spacingAndGlyphs" fill="#000">pAkt/ total Akt</text>
<rect x="237.4" y="272.2" width="12.5" height="1.8" fill="#a5022b"/>
<rect x="256" y="272.6" width="10" height="1.4" fill="#2b4984"/>
<rect x="275.25" y="243.1" width="12.85" height="30.9" fill="#a5022b"/>
<rect x="292.4" y="258.4" width="12.5" height="15.6" fill="#2b4984"/>
<rect x="313.25" y="229" width="12.45" height="45" fill="#a5022b"/>
<rect x="330.25" y="248.5" width="12.5" height="25.5" fill="#2b4984"/>
<circle cx="241.1" cy="271" r="2.2" fill="#000"/>
<circle cx="246.75" cy="269.75" r="2.2" fill="#000"/>
<circle cx="242.3" cy="274" r="2.2" fill="#000"/>
<rect x="258.25" y="265.7" width="5.0" height="5.0" fill="#000"/>
<rect x="254.8" y="269.5" width="5.0" height="5.0" fill="#000"/>
<rect x="261.8" y="269.7" width="5.0" height="5.0" fill="#000"/>
<rect x="258.25" y="271.8" width="5.0" height="5.0" fill="#000"/>
<line x1="281.68" y1="239.75" x2="281.68" y2="246.6" stroke="#000" stroke-width="0.72"/>
<line x1="278.38" y1="239.75" x2="284.98" y2="239.75" stroke="#000" stroke-width="0.72"/>
<line x1="278.38" y1="246.6" x2="284.98" y2="246.6" stroke="#000" stroke-width="0.72"/>
<polygon points="279,236.87 281.53,241.27 276.47,241.27" fill="#000"/>
<polygon points="281.5,234.37 284.03,238.77 278.97,238.77" fill="#000"/>
<polygon points="284.5,240.97 287.03,245.37 281.97,245.37" fill="#000"/>
<polygon points="281.75,249.37 284.28,253.77 279.22,253.77" fill="#000"/>
<line x1="298.65" y1="255" x2="298.65" y2="261.3" stroke="#000" stroke-width="0.72"/>
<line x1="295.35" y1="255" x2="301.95" y2="255" stroke="#000" stroke-width="0.72"/>
<line x1="295.35" y1="261.3" x2="301.95" y2="261.3" stroke="#000" stroke-width="0.72"/>
<polygon points="299,251.28 301.53,246.88 296.47,246.88" fill="#000"/>
<polygon points="296.1,258.53 298.63,254.13 293.57,254.13" fill="#000"/>
<polygon points="302.75,261.93 305.28,257.53 300.22,257.53" fill="#000"/>
<polygon points="299,268.13 301.53,263.73 296.47,263.73" fill="#000"/>
<line x1="319.48" y1="221.5" x2="319.48" y2="235" stroke="#000" stroke-width="0.72"/>
<line x1="316.18" y1="221.5" x2="322.78" y2="221.5" stroke="#000" stroke-width="0.72"/>
<line x1="316.18" y1="235" x2="322.78" y2="235" stroke="#000" stroke-width="0.72"/>
<polygon points="319.5,214.25 321.5,216.25 319.5,218.25 317.5,216.25" fill="#000"/>
<polygon points="319.5,227.0 321.5,229 319.5,231.0 317.5,229" fill="#000"/>
<polygon points="319.5,238.0 321.5,240 319.5,242.0 317.5,240" fill="#000"/>
<line x1="336.5" y1="244.75" x2="336.5" y2="252.2" stroke="#000" stroke-width="0.72"/>
<line x1="333.2" y1="244.75" x2="339.8" y2="244.75" stroke="#000" stroke-width="0.72"/>
<line x1="333.2" y1="252.2" x2="339.8" y2="252.2" stroke="#000" stroke-width="0.72"/>
<circle cx="336.75" cy="241.5" r="1.9" fill="#000"/>
<circle cx="333.6" cy="251.9" r="1.9" fill="#000"/>
<circle cx="339.9" cy="249.4" r="1.9" fill="#000"/>
<text x="281.75" y="230.35" font-size="5.5" text-anchor="middle" fill="#222">*</text>
<text x="298.6" y="242.9" font-size="5.2" text-anchor="middle" fill="#333">†</text>
<text x="319.5" y="212.85" font-size="5.5" text-anchor="middle" fill="#222">*</text>
<text x="336.6" y="235.7" font-size="5.2" text-anchor="middle" fill="#333">†</text>
<line x1="308.4" y1="199.5" x2="308.4" y2="274" stroke="#111" stroke-width="0.9" stroke-dasharray="2.9 1.5"/>
<line x1="239.3" y1="280.2" x2="263.1" y2="280.2" stroke="#111" stroke-width="1.0"/>
<line x1="277.6" y1="280.2" x2="304.3" y2="280.2" stroke="#111" stroke-width="1.0"/>
<line x1="315.6" y1="280.2" x2="344.6" y2="280.2" stroke="#111" stroke-width="1.0"/>
<text x="251.6" y="290.2" font-size="6.6" text-anchor="middle" fill="#222">RP</text>
<text x="276.8" y="290.2" font-size="6.6" textLength="28.3" lengthAdjust="spacingAndGlyphs" fill="#222">Convulxin</text>
<text x="316.3" y="290.2" font-size="6.6" textLength="28.2" lengthAdjust="spacingAndGlyphs" fill="#222">Thrombin</text>
<line x1="396.25" y1="198" x2="396.25" y2="274.6" stroke="#000" stroke-width="1.1"/>
<line x1="395.75" y1="274.1" x2="513.05" y2="274.1" stroke="#000" stroke-width="1.1"/>
<line x1="393.45" y1="274.1" x2="396.25" y2="274.1" stroke="#000" stroke-width="0.95"/>
<text x="381.35" y="276.25" font-size="6.4" textLength="8.6" lengthAdjust="spacingAndGlyphs" fill="#000">0.0</text>
<line x1="393.45" y1="255.75" x2="396.25" y2="255.75" stroke="#000" stroke-width="0.95"/>
<text x="381.35" y="257.9" font-size="6.4" textLength="8.6" lengthAdjust="spacingAndGlyphs" fill="#000">0.2</text>
<line x1="393.45" y1="237.4" x2="396.25" y2="237.4" stroke="#000" stroke-width="0.95"/>
<text x="381.35" y="239.55" font-size="6.4" textLength="8.6" lengthAdjust="spacingAndGlyphs" fill="#000">0.4</text>
<line x1="393.45" y1="219.05" x2="396.25" y2="219.05" stroke="#000" stroke-width="0.95"/>
<text x="381.35" y="221.2" font-size="6.4" textLength="8.6" lengthAdjust="spacingAndGlyphs" fill="#000">0.6</text>
<line x1="393.45" y1="200.7" x2="396.25" y2="200.7" stroke="#000" stroke-width="0.95"/>
<text x="381.35" y="202.85" font-size="6.4" textLength="8.6" lengthAdjust="spacingAndGlyphs" fill="#000">0.8</text>
<text transform="translate(372.5,236) rotate(-90)" font-size="7.8" text-anchor="middle" textLength="65" lengthAdjust="spacingAndGlyphs" fill="#000">pGSK3β/ total GSK3β</text>
<rect x="402.5" y="272.6" width="13.1" height="1.5" fill="#a5022b"/>
<rect x="419.5" y="272.6" width="12.8" height="1.5" fill="#2b4984"/>
<rect x="439.1" y="229" width="13.0" height="45.1" fill="#a5022b"/>
<rect x="456.1" y="250.25" width="12.8" height="23.85" fill="#2b4984"/>
<rect x="476.1" y="231" width="13.1" height="43.1" fill="#a5022b"/>
<rect x="492.25" y="248.1" width="13.15" height="26.0" fill="#2b4984"/>
<circle cx="405.25" cy="270.6" r="1.85" fill="#000"/>
<circle cx="409.4" cy="273.7" r="1.85" fill="#000"/>
<circle cx="413.1" cy="273.7" r="1.85" fill="#000"/>
<rect x="420.15" y="268.9" width="4.2" height="4.2" fill="#000"/>
<rect x="424.2" y="271.7" width="4.2" height="4.2" fill="#000"/>
<rect x="428.1" y="271.7" width="4.2" height="4.2" fill="#000"/>
<line x1="445.6" y1="226.25" x2="445.6" y2="231.8" stroke="#000" stroke-width="0.72"/>
<line x1="442.3" y1="226.25" x2="448.9" y2="226.25" stroke="#000" stroke-width="0.72"/>
<line x1="442.3" y1="231.8" x2="448.9" y2="231.8" stroke="#000" stroke-width="0.72"/>
<polygon points="446,220.97 448.53,225.37 443.47,225.37" fill="#000"/>
<polygon points="443.25,230.57 445.78,234.97 440.72,234.97" fill="#000"/>
<polygon points="448.9,229.97 451.43,234.37 446.37,234.37" fill="#000"/>
<line x1="462.5" y1="245.3" x2="462.5" y2="255.25" stroke="#000" stroke-width="0.72"/>
<line x1="459.2" y1="245.3" x2="465.8" y2="245.3" stroke="#000" stroke-width="0.72"/>
<line x1="459.2" y1="255.25" x2="465.8" y2="255.25" stroke="#000" stroke-width="0.72"/>
<polygon points="459.75,245.28 462.28,240.88 457.22,240.88" fill="#000"/>
<polygon points="465.1,249.78 467.63,245.38 462.57,245.38" fill="#000"/>
<polygon points="462.6,262.53 465.13,258.13 460.07,258.13" fill="#000"/>
<line x1="482.65" y1="229" x2="482.65" y2="233.5" stroke="#000" stroke-width="0.72"/>
<line x1="479.35" y1="229" x2="485.95" y2="229" stroke="#000" stroke-width="0.72"/>
<line x1="479.35" y1="233.5" x2="485.95" y2="233.5" stroke="#000" stroke-width="0.72"/>
<polygon points="479.75,226.1 481.75,228.1 479.75,230.1 477.75,228.1" fill="#000"/>
<polygon points="485.75,227.4 487.75,229.4 485.75,231.4 483.75,229.4" fill="#000"/>
<polygon points="482.6,234.25 484.6,236.25 482.6,238.25 480.6,236.25" fill="#000"/>
<circle cx="495.1" cy="245.6" r="1.8" fill="#000"/>
<circle cx="499.25" cy="249" r="1.8" fill="#000"/>
<circle cx="502.6" cy="248.5" r="1.8" fill="#000"/>
<text x="445.5" y="217.85" font-size="5.5" text-anchor="middle" fill="#222">*</text>
<text x="462.4" y="237.3" font-size="5.2" text-anchor="middle" fill="#333">†</text>
<text x="482.6" y="222.0" font-size="5.5" text-anchor="middle" fill="#222">*</text>
<text x="499.3" y="240.2" font-size="5.2" text-anchor="middle" fill="#333">†</text>
<line x1="472.4" y1="199.5" x2="472.4" y2="274.1" stroke="#111" stroke-width="0.9" stroke-dasharray="2.9 1.5"/>
<line x1="401.25" y1="280.2" x2="425.05" y2="280.2" stroke="#111" stroke-width="1.0"/>
<line x1="439.55" y1="280.2" x2="466.25" y2="280.2" stroke="#111" stroke-width="1.0"/>
<line x1="477.55" y1="280.2" x2="506.55" y2="280.2" stroke="#111" stroke-width="1.0"/>
<text x="413.55" y="290.2" font-size="6.6" text-anchor="middle" fill="#222">RP</text>
<text x="438.75" y="290.2" font-size="6.6" textLength="28.3" lengthAdjust="spacingAndGlyphs" fill="#222">Convulxin</text>
<text x="478.25" y="290.2" font-size="6.6" textLength="28.2" lengthAdjust="spacingAndGlyphs" fill="#222">Thrombin</text>
<rect x="0.6" y="0.6" width="518.8" height="298.8" fill="none" stroke="#000" stroke-width="1.2"/>
</svg>
</body></html>
